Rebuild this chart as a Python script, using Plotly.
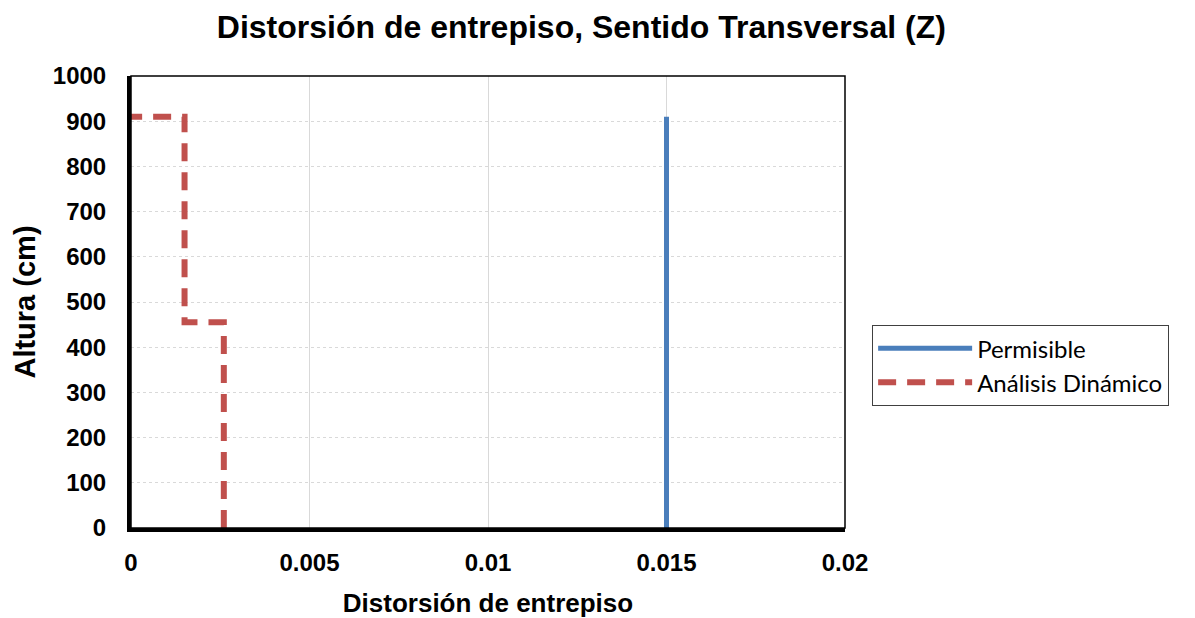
import plotly.graph_objects as go

# Permisible limit
perm_x = [0.015, 0.015]
perm_y = [0, 910]

# Análisis dinámico (step profile)
din_x = [0.0026, 0.0026, 0.0015, 0.0015, 0.0]
din_y = [0, 455, 455, 910, 910]

x_ticks = [0, 0.005, 0.01, 0.015, 0.02]
x_labels = ["0", "0.005", "0.01", "0.015", "0.02"]

fig = go.Figure()
fig.add_trace(go.Scatter(x=perm_x, y=perm_y, mode="lines", name="Permisible",
                         line=dict(color="#4a7ebb", width=5)))
fig.add_trace(go.Scatter(x=din_x, y=din_y, mode="lines", name="Análisis Dinámico",
                         line=dict(color="#c0504d", width=6, dash="18px,11px")))

# page body has an 8px margin, so the figure is a bit smaller than the window
fig.update_layout(
    width=1187, height=610,
    paper_bgcolor="white", plot_bgcolor="white",
    margin=dict(l=123, r=350, t=68, b=90),
    title=dict(text="<b>Distorsión de entrepiso, Sentido Transversal (Z)</b>",
               x=0.483, xanchor="center", y=0.969, yanchor="middle",
               font=dict(family="Liberation Sans, Arial", size=32, color="black")),
    legend=dict(x=1.038, y=0.449, xanchor="left", yanchor="top",
                bordercolor="#404040", borderwidth=1, itemwidth=94,
                font=dict(family="Lato, Noto Sans", size=24, color="black"),
                tracegroupgap=0),
    showlegend=True,
)

fig.update_xaxes(
    range=[0, 0.02], tickvals=x_ticks, ticktext=x_labels,
    showgrid=True, gridcolor="#d9d9d9", gridwidth=1,
    showline=True, linecolor="black", linewidth=4, automargin=False,
    ticks="", zeroline=False, ticklabelstandoff=10,
    tickfont=dict(family="Liberation Sans, Arial", size=24, color="black", weight="bold"),
    title=dict(text="<b>Distorsión de entrepiso</b>", standoff=28,
               font=dict(family="Liberation Sans, Arial", size=26, color="black")),
)
fig.update_yaxes(
    range=[0, 1000], dtick=100,
    showgrid=True, gridcolor="#d9d9d9", gridwidth=1, griddash="dot",
    showline=True, linecolor="black", linewidth=4, automargin=False,
    ticks="", zeroline=False, ticklabelstandoff=16,
    tickfont=dict(family="Liberation Sans, Arial", size=24, color="black", weight="bold"),
    title=dict(text="<b>Altura (cm)</b>", standoff=10,
               font=dict(family="Liberation Sans, Arial", size=29, color="black")),
)

fig.add_shape(type="rect", xref="paper", yref="paper", x0=0, y0=0, x1=1, y1=1,
              line=dict(color="black", width=1.5), layer="above")

fig.write_html("out.html")
